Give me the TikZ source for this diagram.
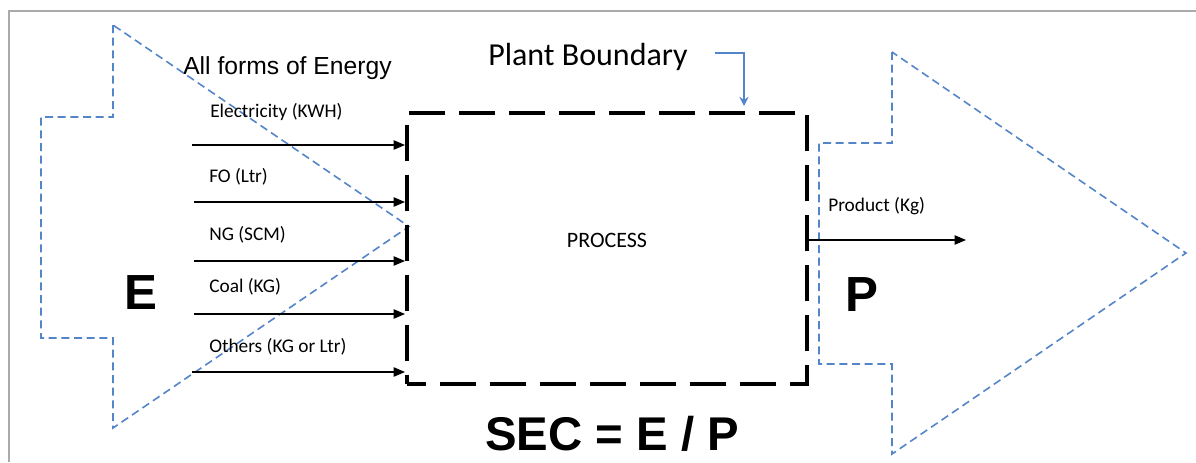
\documentclass[tikz,border=0pt]{standalone}
\usepackage{fontspec}
\setmainfont{Liberation Sans}
\newfontfamily\calibri{Carlito}
\usetikzlibrary{arrows.meta}

\definecolor{arrowblue}{RGB}{84,133,200}
\definecolor{framegray}{RGB}{170,170,170}

\tikzset{
  flow/.style={draw=black, line width=0.9pt, -{Triangle[length=8.5pt,width=7pt]}},
  bigarrow/.style={draw=arrowblue, line width=1.2pt, dash pattern=on 6pt off 3.5pt},
  boundary/.style={draw=black, line width=3pt, dash pattern=on 27pt off 10.5pt, dash phase=13pt},
  flowlabel/.style={anchor=base west, inner sep=0pt, font=\calibri\fontsize{14.5}{17}\selectfont},
}

\begin{document}
\begin{tikzpicture}[x=0.75pt,y=0.75pt,yscale=-1,xscale=1]
\useasboundingbox (0,0) rectangle (1196,462);

%Frame
\draw [framegray, line width=1.2pt] (9,462) -- (9,11) -- (1196,11) ;

%Shape: Left Arrow (energy in)
\draw [bigarrow] (113,25) -- (113,117) -- (41,117) -- (41,338) -- (113,338) -- (113,428) -- (409,226.5) -- cycle ;
%Shape: Right Arrow (product out)
\draw [bigarrow] (892,52) -- (892,143) -- (819,143) -- (819,364) -- (892,364) -- (892,454) -- (1186,253) -- cycle ;

%Shape: Process box
\node [boundary, minimum width=300pt, minimum height=203.25pt, inner sep=0pt] (proc) at (607,248.5) {};

% Text Node
\node [anchor=base, inner sep=0pt, font=\calibri\fontsize{16.5}{19}\selectfont] (process) at (607,247) {PROCESS};

%Straight Lines: inputs
\coordinate (elecin) at (192,145);
\coordinate (foin) at (194,202);
\coordinate (ngin) at (194,261);
\coordinate (coalin) at (194,314);
\coordinate (othersin) at (192,372);
\draw [flow] (elecin) -- (elecin -| proc.west) ;
\draw [flow] (foin) -- (foin -| proc.west) ;
\draw [flow] (ngin) -- (ngin -| proc.west) ;
\draw [flow] (coalin) -- (coalin -| proc.west) ;
\draw [flow] (othersin) -- (othersin -| proc.west) ;

%Straight Lines: output
\coordinate (prodout) at (966,240);
\draw [flow] (proc.east |- prodout) -- (prodout) ;

%Plant boundary pointer
\coordinate (bndstart) at (715,53);
\coordinate (bndend) at (744,106);
\draw [arrowblue, line width=0.9pt, -{Stealth[length=7pt,width=7pt,inset=2.5pt]}] (bndstart) -| (bndend) ;

% Text Node
\node [anchor=base west, inner sep=0pt, font=\fontsize{18.5}{22}\selectfont] (allforms) at (183,74) {All forms of Energy};
% Text Node
\node [anchor=base west, inner sep=0pt, font=\calibri\fontsize{24}{28}\selectfont] (plant) at (488,65) {Plant Boundary};
% Text Node
\node [flowlabel] (eleclbl) at (210,117) {Electricity (KWH)};
% Text Node
\node [flowlabel] (folbl) at (209,182) {FO (Ltr)};
% Text Node
\node [flowlabel] (nglbl) at (209,240) {NG (SCM)};
% Text Node
\node [flowlabel] (coallbl) at (209,292) {Coal (KG)};
% Text Node
\node [flowlabel] (otherslbl) at (209,352) {Others (KG or Ltr)};
% Text Node
\node [flowlabel] (prodlbl) at (828,211) {Product (Kg)};
% Text Node
\node [inner sep=0pt, font=\bfseries\fontsize{37}{40}\selectfont] (elbl) at (141,293) {E};
% Text Node
\node [inner sep=0pt, font=\bfseries\fontsize{37}{40}\selectfont] (plbl) at (862,295) {P};
% Text Node
\node [anchor=base, inner sep=0pt, font=\bfseries\fontsize{35.5}{40}\selectfont] (sec) at (612,450) {SEC = E / P};

\end{tikzpicture}
\end{document}
